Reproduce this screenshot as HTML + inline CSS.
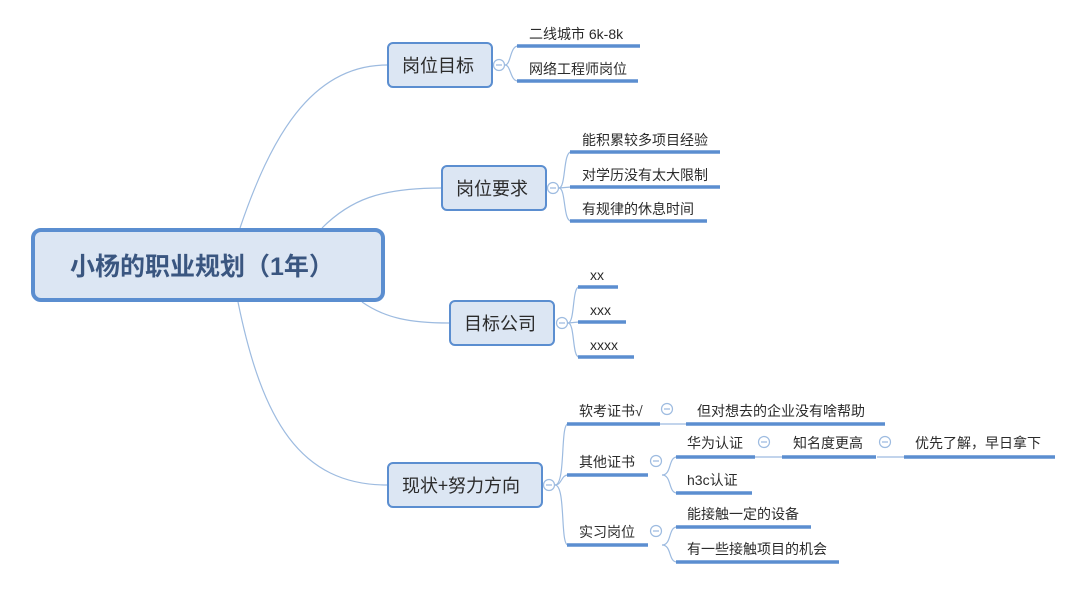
<!DOCTYPE html>
<html><head><meta charset="utf-8">
<style>
html,body{margin:0;padding:0;background:#fff;}
svg{display:block;}
text{font-family:"Liberation Sans","Noto Sans CJK SC",sans-serif;fill:#2b2b2b;}
</style></head>
<body>
<svg width="1080" height="592" viewBox="0 0 1080 592" xmlns="http://www.w3.org/2000/svg">
<g fill="none" stroke="#9dbbe0" stroke-width="1.2">
  <path d="M240 228 C 270 140, 310 65, 387 65"/>
  <path d="M322 228 C 350 200, 380 188, 441 188"/>
  <path d="M362 302 C 385 318, 410 323, 449 323"/>
  <path d="M238 302 C 262 420, 300 485, 387 485"/>
  <path d="M505 65 C 511 65, 510 46, 518 46"/>
  <path d="M505 65 C 511 65, 510 81, 518 81"/>
  <path d="M559 188 C 566 188, 563 152, 571 152"/>
  <path d="M559 188 L 571 187"/>
  <path d="M559 188 C 566 188, 563 221, 571 221"/>
  <path d="M568 323 C 575 323, 572 287, 579 287"/>
  <path d="M568 323 L 579 322"/>
  <path d="M568 323 C 575 323, 572 357, 579 357"/>
  <path d="M555 485 C 566 485, 560 424, 568 424"/>
  <path d="M555 485 C 562 485, 561 475, 568 475"/>
  <path d="M555 485 C 566 485, 560 545, 568 545"/>
  <path d="M660 424 L 686 424"/>
  <path d="M662 475 C 672 475, 668 457, 677 457"/>
  <path d="M662 475 C 672 475, 668 493, 677 493"/>
  <path d="M755 457 L 782 457"/>
  <path d="M877 457 L 904 457"/>
  <path d="M662 545 C 672 545, 668 527, 677 527"/>
  <path d="M662 545 C 672 545, 668 562, 677 562"/>
</g>

<rect x="33" y="230" width="350" height="70" rx="8" fill="#dce6f3" stroke="#5b8ed0" stroke-width="4"/>
<text x="70" y="275" font-size="25" font-weight="bold" style="fill:#3a5680">小杨的职业规划（1年）</text>

<g stroke="#5b8ed0" stroke-width="2" fill="#dce6f3">
  <rect x="388" y="43" width="104" height="44" rx="5"/>
  <rect x="442" y="166" width="104" height="44" rx="5"/>
  <rect x="450" y="301" width="104" height="44" rx="5"/>
  <rect x="388" y="463" width="154" height="44" rx="5"/>
</g>
<g font-size="18">
  <text x="402" y="72">岗位目标</text>
  <text x="456" y="195">岗位要求</text>
  <text x="464" y="330">目标公司</text>
  <text x="402" y="492" style="font-family:'Noto Sans CJK SC',sans-serif">现状+努力方向</text>
</g>

<g fill="#fff" stroke="#9dbbe0" stroke-width="1.2">
  <circle cx="499" cy="65" r="5.5"/>
  <circle cx="553" cy="188" r="5.5"/>
  <circle cx="562" cy="323" r="5.5"/>
  <circle cx="549" cy="485" r="5.5"/>
  <circle cx="667" cy="409" r="5.5"/>
  <circle cx="656" cy="461" r="5.5"/>
  <circle cx="764" cy="442" r="5.5"/>
  <circle cx="885" cy="442" r="5.5"/>
  <circle cx="656" cy="531" r="5.5"/>
</g>
<g stroke="#9dbbe0" stroke-width="1.2">
  <path d="M496 65 h6 M550 188 h6 M559 323 h6 M546 485 h6 M664 409 h6 M653 461 h6 M761 442 h6 M882 442 h6 M653 531 h6"/>
</g>

<g stroke="#5b8ed0" stroke-width="3.5">
  <path d="M517 46 H640"/>
  <path d="M517 81 H638"/>
  <path d="M570 152 H720"/>
  <path d="M570 187 H720"/>
  <path d="M570 221 H707"/>
  <path d="M578 287 H618"/>
  <path d="M578 322 H626"/>
  <path d="M578 357 H634"/>
  <path d="M567 424 H660"/>
  <path d="M686 424 H885"/>
  <path d="M567 475 H648"/>
  <path d="M676 457 H755"/>
  <path d="M782 457 H876"/>
  <path d="M904 457 H1055"/>
  <path d="M676 493 H752"/>
  <path d="M567 545 H648"/>
  <path d="M676 527 H811"/>
  <path d="M676 562 H839"/>
</g>

<g font-size="14">
  <text x="529" y="39">二线城市 6k-8k</text>
  <text x="529" y="74">网络工程师岗位</text>
  <text x="582" y="145">能积累较多项目经验</text>
  <text x="582" y="180">对学历没有太大限制</text>
  <text x="582" y="214">有规律的休息时间</text>
  <text x="590" y="280">xx</text>
  <text x="590" y="315">xxx</text>
  <text x="590" y="350">xxxx</text>
  <text x="579" y="416">软考证书√</text>
  <text x="697" y="416">但对想去的企业没有啥帮助</text>
  <text x="579" y="467">其他证书</text>
  <text x="687" y="448">华为认证</text>
  <text x="793" y="448">知名度更高</text>
  <text x="915" y="448">优先了解，早日拿下</text>
  <text x="687" y="485">h3c认证</text>
  <text x="579" y="537">实习岗位</text>
  <text x="687" y="519">能接触一定的设备</text>
  <text x="687" y="554">有一些接触项目的机会</text>
</g>
</svg>
</body></html>
